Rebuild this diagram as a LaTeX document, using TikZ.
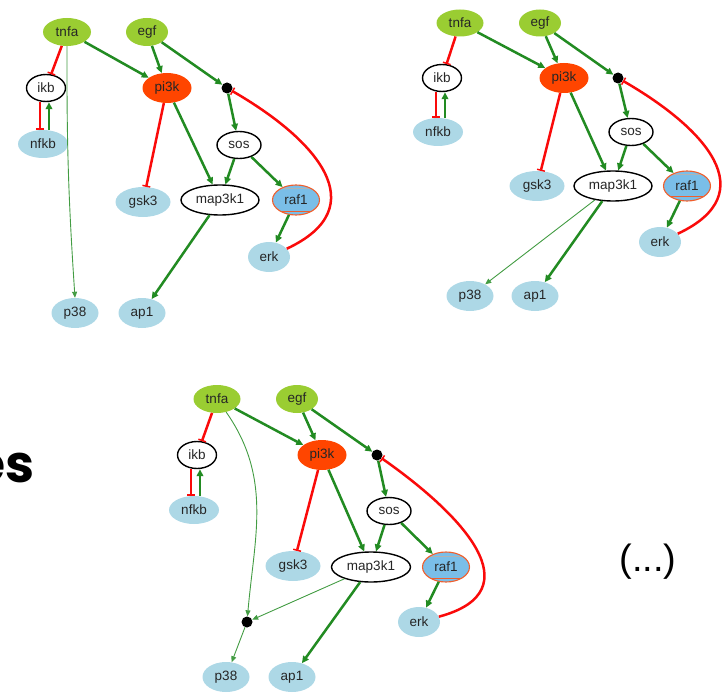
\documentclass[tikz,border=0pt]{standalone}
\usepackage{fontspec}
\setmainfont{Liberation Sans}
\newfontfamily\popfont{Poppins}
\usetikzlibrary{shapes.geometric,arrows.meta}
\definecolor{ygreen}{RGB}{154,205,50}
\definecolor{lblue}{RGB}{173,216,230}
\definecolor{pired}{RGB}{255,69,0}
\definecolor{egreen}{RGB}{34,139,34}
\definecolor{ired}{RGB}{250,10,10}
\definecolor{rafblue}{RGB}{122,190,232}
\definecolor{rafor}{RGB}{240,95,45}
\begin{document}
\begin{tikzpicture}[x=1pt,y=1pt,
 nd/.style={ellipse,inner sep=0pt,font=\fontsize{13.5}{15}\selectfont,text=black!85},
 gr/.style={nd,fill=ygreen},
 lb/.style={nd,fill=lblue},
 wh/.style={nd,draw=black,line width=1.4pt,fill=white},
 pk/.style={nd,fill=pired},
 rf/.style={nd,fill=rafblue,draw=rafor,line width=1.1pt,
   path picture={
     \draw[gray!60,line width=1pt] ([yshift=-4pt]path picture bounding box.north west) -- ([yshift=-4pt]path picture bounding box.north east);
     \draw[rafor,line width=1pt] ([yshift=4pt]path picture bounding box.south west) -- ([yshift=4pt]path picture bounding box.south east);}},
 jn/.style={circle,fill=black,inner sep=0pt,minimum size=11pt},
 sz/.style 2 args={minimum width=#1pt,minimum height=#2pt},
 act/.style={draw=egreen,line width=2.5pt,-{Triangle[length=7pt,width=6.5pt]}},
 tact/.style={draw=egreen!85!white,line width=0.9pt,-{Triangle[length=6pt,width=5pt]}},
 inh/.style={draw=ired,line width=2.5pt,-{Bar[width=8pt,line width=1.5pt]}},
]
\useasboundingbox (0,0) rectangle (725,-695);

% ---------- graph 1 ----------
\node[gr,sz={48}{28}] (a-tnfa) at (67,-32) {tnfa};
\node[gr,sz={42}{28}] (a-egf) at (147,-32) {egf};
\node[wh,sz={39}{27}] (a-ikb) at (46,-88) {ikb};
\node[lb,sz={50}{28}] (a-nfkb) at (43,-144) {nfkb};
\node[pk,sz={49}{30}] (a-pi3k) at (167,-88) {pi3k};
\node[jn] (a-dot) at (227,-88) {};
\node[wh,sz={44}{27}] (a-sos) at (239,-145) {sos};
\node[lb,sz={55}{30}] (a-gsk3) at (143,-202) {gsk3};
\node[wh,sz={78}{30}] (a-map) at (220,-200) {map3k1};
\node[rf,sz={47}{30}] (a-raf1) at (296,-200) {raf1};
\node[lb,sz={42}{30}] (a-erk) at (269,-257) {erk};
\node[lb,sz={47}{30}] (a-p38) at (75,-313) {p38};
\node[lb,sz={47}{30}] (a-ap1) at (142,-313) {ap1};

\draw[inh] (a-tnfa) -- (a-ikb);
\draw[act] (a-tnfa) -- (a-pi3k);
\draw[tact] (a-tnfa.south) to[bend right=2] (a-p38.north);
\draw[act] (a-egf) -- (a-pi3k);
\draw[act] (a-egf) -- (a-dot);
\draw[act] (a-dot) -- (a-sos);
\draw[inh] ([xshift=-6pt]a-ikb.south) -- ([xshift=-6pt]a-ikb.south |- a-nfkb.north);
\draw[act] ([xshift=3pt]a-ikb.south |- a-nfkb.north) -- ([xshift=3pt]a-ikb.south);
\draw[inh] (a-pi3k) -- (a-gsk3);
\draw[act] (a-pi3k) -- (a-map);
\draw[act] (a-sos) -- (a-map);
\draw[act] (a-sos) -- (a-raf1);
\draw[act] (a-raf1) -- (a-erk);
\draw[act] (a-map) -- (a-ap1);
\draw[inh] (a-erk) to[out=25,in=-30,looseness=1.5] (a-dot);

% ---------- graph 2 ----------
\node[gr,sz={47}{27}] (b-tnfa) at (460,-23) {tnfa};
\node[gr,sz={42}{27}] (b-egf) at (540,-23) {egf};
\node[wh,sz={39}{27}] (b-ikb) at (442,-78) {ikb};
\node[lb,sz={50}{28}] (b-nfkb) at (438,-132) {nfkb};
\node[pk,sz={49}{30}] (b-pi3k) at (564,-78) {pi3k};
\node[jn] (b-dot) at (618,-78) {};
\node[wh,sz={44}{27}] (b-sos) at (631,-132) {sos};
\node[lb,sz={55}{30}] (b-gsk3) at (537,-186) {gsk3};
\node[wh,sz={78}{30}] (b-map) at (613,-186) {map3k1};
\node[rf,sz={47}{30}] (b-raf1) at (687,-186) {raf1};
\node[lb,sz={42}{30}] (b-erk) at (660,-242) {erk};
\node[lb,sz={47}{30}] (b-p38) at (470,-296) {p38};
\node[lb,sz={47}{30}] (b-ap1) at (535,-296) {ap1};

\draw[inh] (b-tnfa) -- (b-ikb);
\draw[act] (b-tnfa) -- (b-pi3k);
\draw[act] (b-egf) -- (b-pi3k);
\draw[act] (b-egf) -- (b-dot);
\draw[act] (b-dot) -- (b-sos);
\draw[inh] ([xshift=-6pt]b-ikb.south) -- ([xshift=-6pt]b-ikb.south |- b-nfkb.north);
\draw[act] ([xshift=3pt]b-ikb.south |- b-nfkb.north) -- ([xshift=3pt]b-ikb.south);
\draw[inh] (b-pi3k) -- (b-gsk3);
\draw[act] (b-pi3k) -- (b-map);
\draw[act] (b-sos) -- (b-map);
\draw[act] (b-sos) -- (b-raf1);
\draw[act] (b-raf1) -- (b-erk);
\draw[act] (b-map) -- (b-ap1);
\draw[tact] (b-map) -- (b-p38);
\draw[inh] (b-erk) to[out=25,in=-30,looseness=1.5] (b-dot);

% ---------- graph 3 ----------
\node[gr,sz={47}{28}] (c-tnfa) at (217,-399) {tnfa};
\node[gr,sz={42}{28}] (c-egf) at (297,-399) {egf};
\node[wh,sz={39}{27}] (c-ikb) at (197,-455) {ikb};
\node[lb,sz={50}{28}] (c-nfkb) at (194,-510) {nfkb};
\node[pk,sz={49}{30}] (c-pi3k) at (322,-455) {pi3k};
\node[jn] (c-dot) at (377,-455) {};
\node[wh,sz={44}{27}] (c-sos) at (389,-511) {sos};
\node[lb,sz={55}{30}] (c-gsk3) at (293,-566) {gsk3};
\node[wh,sz={79}{30}] (c-map) at (371,-567) {map3k1};
\node[rf,sz={47}{30}] (c-raf1) at (446,-567) {raf1};
\node[lb,sz={42}{30}] (c-erk) at (419,-622) {erk};
\node[jn] (c-dot2) at (247,-622) {};
\node[lb,sz={47}{30}] (c-p38) at (226,-677) {p38};
\node[lb,sz={47}{30}] (c-ap1) at (292,-677) {ap1};

\draw[inh] (c-tnfa) -- (c-ikb);
\draw[act] (c-tnfa) -- (c-pi3k);
\draw[tact] (c-tnfa) to[out=-55,in=85] (c-dot2);
\draw[act] (c-egf) -- (c-pi3k);
\draw[act] (c-egf) -- (c-dot);
\draw[act] (c-dot) -- (c-sos);
\draw[inh] ([xshift=-6pt]c-ikb.south) -- ([xshift=-6pt]c-ikb.south |- c-nfkb.north);
\draw[act] ([xshift=3pt]c-ikb.south |- c-nfkb.north) -- ([xshift=3pt]c-ikb.south);
\draw[inh] (c-pi3k) -- (c-gsk3);
\draw[act] (c-pi3k) -- (c-map);
\draw[act] (c-sos) -- (c-map);
\draw[act] (c-sos) -- (c-raf1);
\draw[act] (c-raf1) -- (c-erk);
\draw[act] (c-map) -- (c-ap1);
\draw[tact] (c-map) -- (c-dot2);
\draw[tact] (c-dot2) -- (c-p38);
\draw[inh] (c-erk) to[out=15,in=-35,looseness=1.5] (c-dot);

% ---------- texts ----------
\node[anchor=base east,inner sep=0pt,font=\popfont\bfseries\fontsize{52}{58}\selectfont] (es) at (35,-482) {es};
\node[anchor=center,inner sep=0pt,font=\fontsize{38}{44}\selectfont] (dots) at (648,-562) {(...)};
\end{tikzpicture}
\end{document}
